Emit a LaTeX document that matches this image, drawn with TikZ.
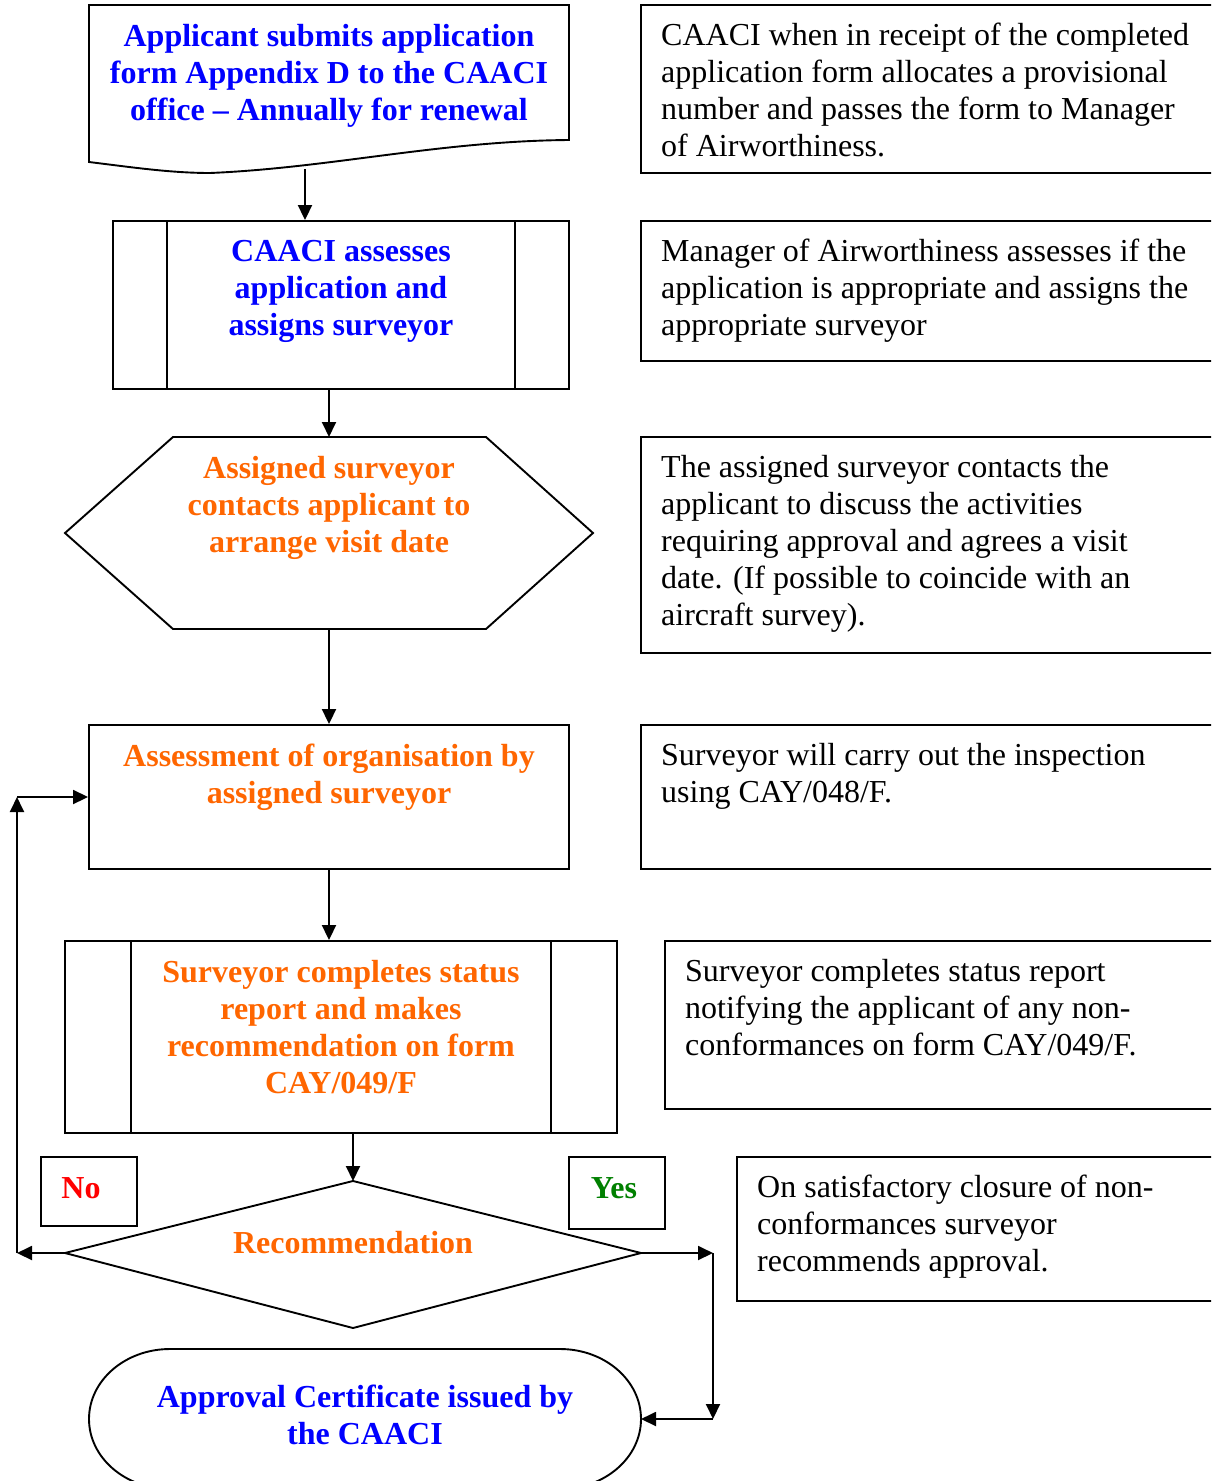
\documentclass[tikz,border=0pt]{standalone}
\usepackage{fontspec}
\setmainfont{Liberation Serif}
\usetikzlibrary{arrows.meta}
\definecolor{cblue}{RGB}{0,0,255}
\definecolor{corange}{RGB}{255,102,0}
\definecolor{cred}{RGB}{255,0,0}
\definecolor{cgreen}{RGB}{0,128,0}
\newcommand{\bigtxt}{\fontsize{32pt}{36.8pt}\selectfont}
\begin{document}
\begin{tikzpicture}[x=1pt,y=-1pt,
  shp/.style={draw=black, line width=1.9pt},
  boxnode/.style={shp, rectangle, inner sep=0pt},
  arr/.style={line width=1.9pt, -{Triangle[length=15pt,width=14pt]}},
  ltext/.style={anchor=north, inner sep=0pt, align=center, font=\bigtxt\bfseries},
  rtext/.style={anchor=north west, inner sep=0pt, align=left, font=\bigtxt},
]
\useasboundingbox (0,0) rectangle (1211,1481);
\clip (0,0) rectangle (1211,1481);
\fill[white] (0,0) rectangle (1211,1481);

% ---- Box 1: document shape
\draw[shp] (89,5) -- (569,5) -- (569,140)
  .. controls (440,141) and (330,168) .. (210,173)
  .. controls (170,173) and (130,167) .. (89,162) -- cycle;
\coordinate (b1s) at (305,169);
\node[ltext, text=cblue] (t1) at (329,21) {\strut Applicant submits application\\form Appendix D to the CAACI\\office -- Annually for renewal};

% ---- Box 2: predefined process
\node[boxnode, minimum width=456pt, minimum height=168pt] (b2) at (341,305) {};
\draw[shp] ([xshift=55pt]b2.north west) -- ([xshift=55pt]b2.south west);
\draw[shp] ([xshift=-55pt]b2.north east) -- ([xshift=-55pt]b2.south east);
\node[ltext, text=cblue] (t2) at (341,236) {\strut CAACI assesses\\application and\\assigns surveyor};

% ---- Hexagon
\coordinate (hT) at (329,437);
\coordinate (hB) at (329,629);
\draw[shp] (65,533) -- (173,437) -- (486,437) -- (593,533) -- (486,629) -- (173,629) -- cycle;
\node[ltext, text=corange] (t3) at (329,453) {\strut Assigned surveyor\\contacts applicant to\\arrange visit date};

% ---- Box 4
\node[boxnode, minimum width=480pt, minimum height=144pt] (b4) at (329,797) {};
\node[ltext, text=corange] (t4) at (329,741) {\strut Assessment of organisation by\\assigned surveyor};

% ---- Box 5: predefined process
\node[boxnode, minimum width=552pt, minimum height=192pt] (b5) at (341,1037) {};
\draw[shp] ([xshift=67pt]b5.north west) -- ([xshift=67pt]b5.south west);
\draw[shp] ([xshift=-67pt]b5.north east) -- ([xshift=-67pt]b5.south east);
\node[ltext, text=corange] (t5) at (341,957) {\strut Surveyor completes status\\report and makes\\recommendation on form\\CAY/049/F};

% ---- Decision diamond
\coordinate (dT) at (353,1181);
\coordinate (dL) at (65,1253);
\coordinate (dR) at (641,1253);
\coordinate (dB) at (353,1328);
\draw[shp] (dT) -- (dR) -- (dB) -- (dL) -- cycle;
\node[ltext, text=corange] (t6) at (353,1228) {\strut Recommendation};

% ---- No / Yes labels
\node[boxnode, minimum width=96pt, minimum height=69pt] (nob) at (89,1191.5) {};
\node[ltext, text=cred] (tno) at (81,1173) {\strut No};
\node[boxnode, minimum width=96pt, minimum height=72pt] (yesb) at (617,1193) {};
\node[ltext, text=cgreen] (tyes) at (614,1173) {\strut Yes};

% ---- Terminal
\draw[shp] (170,1349) -- (560,1349) arc[start angle=-90, end angle=90, x radius=81, y radius=70]
  -- (170,1489) arc[start angle=90, end angle=270, x radius=81, y radius=70] -- cycle;
\coordinate (termE) at (641,1419);
\node[ltext, text=cblue] (t7) at (365,1382) {\strut Approval Certificate issued by\\the CAACI};

% ---- Right-hand description boxes
\draw[shp] (1216,5) -- (641,5) -- (641,173) -- (1216,173);
\node[rtext] (r1) at (661,20) {\strut CAACI when in receipt of the completed\\application form allocates a provisional\\number and passes the form to Manager\\of Airworthiness.};
\draw[shp] (1216,221) -- (641,221) -- (641,361) -- (1216,361);
\node[rtext] (r2) at (661,236) {\strut Manager of Airworthiness assesses if the\\application is appropriate and assigns the\\appropriate surveyor};
\draw[shp] (1216,437) -- (641,437) -- (641,653) -- (1216,653);
\node[rtext] (r3) at (661,452) {\strut The assigned surveyor contacts the\\applicant to discuss the activities\\requiring approval and agrees a visit\\date. (If possible to coincide with an\\aircraft survey).};
\draw[shp] (1216,725) -- (641,725) -- (641,869) -- (1216,869);
\node[rtext] (r4) at (661,740) {\strut Surveyor will carry out the inspection\\using CAY/048/F.};
\draw[shp] (1216,941) -- (665,941) -- (665,1109) -- (1216,1109);
\node[rtext] (r5) at (685,956) {\strut Surveyor completes status report\\notifying the applicant of any non-\\conformances on form CAY/049/F.};
\draw[shp] (1216,1157) -- (737,1157) -- (737,1301) -- (1216,1301);
\node[rtext] (r6) at (757,1172) {\strut On satisfactory closure of non-\\conformances surveyor\\recommends approval.};

% ---- Connectors
\draw[arr] (b1s) -- (b1s |- b2.north);
\draw[arr] (hT |- b2.south) -- (hT);
\draw[arr] (hB) -- (b4.north);
\draw[arr] (b4.south) -- (b4.south |- b5.north);
\draw[arr] (dT |- b5.south) -- (dT);
% No branch
\coordinate (noC) at (17,1253);
\coordinate (noT) at (17,797);
\draw[arr] (dL) -- (noC);
\draw[arr] (noC) -- (noT);
\draw[arr] (noT) -- (b4.west);
% Yes branch
\coordinate (yC) at (713,1253);
\coordinate (yB) at (713,1419);
\draw[arr] (dR) -- (yC);
\draw[arr] (yC) -- (yB);
\draw[arr] (yB) -- (termE);
\end{tikzpicture}
\end{document}
